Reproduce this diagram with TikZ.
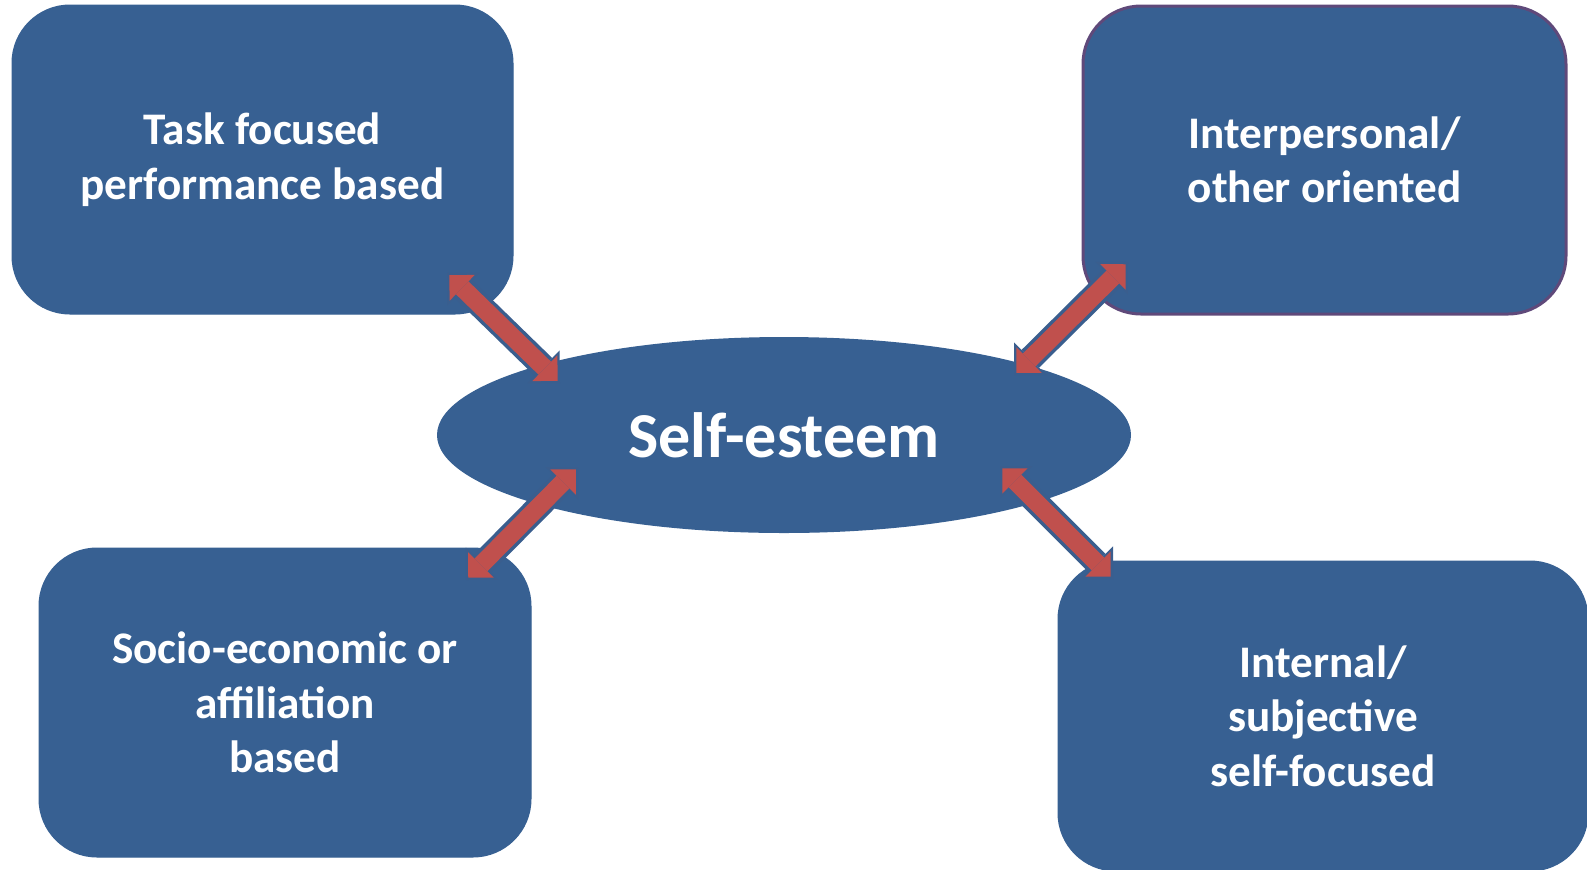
\documentclass[tikz,border=0pt]{standalone}
\usepackage{fontspec}
\setmainfont{Carlito}
\usetikzlibrary{arrows.meta,shapes.geometric}
\definecolor{boxblue}{HTML}{376092}
\definecolor{boxpurple}{HTML}{5F497A}
\definecolor{arrowred}{HTML}{C0504D}
\definecolor{arrowedge}{HTML}{3A5E8E}
\begin{document}
\begin{tikzpicture}[x=0.5pt,y=-0.5pt,
area/.style={rectangle,rounded corners=29pt,fill=boxblue,draw=boxblue,line width=0.5pt,text=white,align=center,inner sep=0pt,font=\bfseries\fontsize{22.6}{27.3}\selectfont},
core/.style={ellipse,fill=boxblue,text=white,inner sep=0pt,minimum width=347pt,minimum height=98pt,font=\bfseries\fontsize{32}{38}\selectfont},
link/.style={draw=arrowred,line width=9pt,
  {Triangle[width=18pt,length=9pt,line width=0pt]}-{Triangle[width=18pt,length=9pt,line width=0pt]},
  shorten <=1.6pt,shorten >=1.6pt,
  preaction={draw=arrowedge,line width=12.5pt,shorten <=0pt,shorten >=0pt,
    {Triangle[width=23pt,length=11.5pt,line width=0pt]}-{Triangle[width=23pt,length=11.5pt,line width=0pt]}}},
]
\useasboundingbox (0,0) rectangle (1587,869);
%boxes
\node[area,minimum width=250.5pt,minimum height=154.5pt](task)at(262.5,159.5){Task focused\\performance based};
\node[area,draw=boxpurple,line width=1.5pt,minimum width=241.5pt,minimum height=154pt](inter)at(1324.5,160){Interpersonal/\\other oriented};
\node[area,minimum width=246pt,minimum height=154.5pt](socio)at(285,702.5){Socio-economic or\\affiliation\\based};
\node[area,minimum width=265pt,minimum height=155pt](internal)at(1323,716){Internal/\\subjective\\self-focused};
%centre
\node[core](self)at(784,435){Self-esteem};
%arrow ends
\coordinate(task end)at(447,273);
\coordinate(self nw)at(560,383);
\coordinate(inter end)at(1128,262);
\coordinate(self ne)at(1014,375);
\coordinate(socio end)at(466,580);
\coordinate(self sw)at(578,467);
\coordinate(internal end)at(1113,579);
\coordinate(self se)at(1000,466);
%arrows
\draw[link](task end)--(self nw);
\draw[link](inter end)--(self ne);
\draw[link](socio end)--(self sw);
\draw[link](internal end)--(self se);
\end{tikzpicture}
\end{document}
